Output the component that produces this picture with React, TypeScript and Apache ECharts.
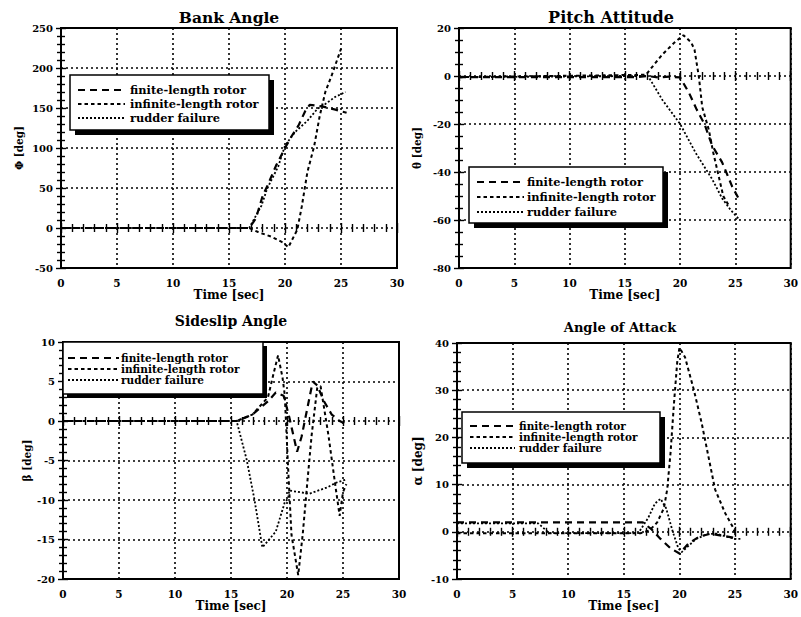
import React, { useEffect, useRef } from "react";
import * as echarts from "echarts";

// ---------- data ----------
const seriesNames = ["finite-length rotor", "infinite-length rotor", "rudder failure"];
const panelTitles = ["Bank Angle", "Pitch Attitude", "Sideslip Angle", "Angle of Attack"];
const yAxisNames = ["Φ [deg]", "θ [deg]", "β [deg]", "α [deg]"];
const xAxisName = "Time [sec]";
const xMin = 0;
const xMax = 30;
const xInterval = 5;
const yMins = [-50, -80, -20, -10];
const yMaxs = [250, 20, 10, 40];
const yIntervals = [50, 20, 5, 10];
const yMinorSplits = [5, 4, 5, 5];

// Bank angle [t, deg]
const bankFinite = [[0, 0], [16.8, 0], [17.4, 12], [18.0, 40], [18.5, 55], [19.2, 78], [20.0, 100], [20.6, 115], [21.2, 128], [21.8, 146], [22.2, 154], [23.3, 152], [24.5, 148], [25.5, 144]];
const bankInfinite = [[0, 0], [16.8, 0], [17.6, -5], [18.8, -11], [19.8, -18], [20.3, -24], [21.1, -2], [21.5, 27], [22.0, 70], [22.6, 102], [23.1, 140], [23.6, 170], [24.2, 192], [25.0, 224]];
const bankRudder = [[0, 0], [16.8, 0], [17.9, 28], [18.4, 49], [19.4, 77], [20.0, 103], [20.9, 120], [22.0, 134], [22.9, 149], [23.6, 155], [24.5, 164], [25.4, 170]];

// Pitch attitude
const pitchFinite = [[0, -0.5], [16.0, -0.5], [17.0, 0], [18.0, -0.6], [19.0, -0.3], [20.0, -0.6], [20.8, -7], [21.5, -14], [22.2, -20], [22.9, -29], [23.8, -36], [24.7, -46], [25.4, -52]];
const pitchInfinite = [[0, -0.5], [16.9, 0.5], [18.4, 9], [19.5, 14], [20.3, 17], [21.0, 14], [21.3, 11], [21.7, -0.5], [22.0, -13], [22.6, -22.5], [23.0, -32], [23.5, -42], [23.9, -50], [24.4, -54]];
const pitchRudder = [[0, -0.5], [17.1, 0], [18.4, -10], [20.0, -20], [21.4, -32], [22.9, -43], [23.8, -51], [24.6, -56], [25.4, -60]];

// Sideslip angle
const sideFinite = [[0, 0], [15.5, 0], [16.9, 0.8], [18.3, 2.5], [19.0, 3.6], [19.7, 3.2], [20.2, 0.5], [20.6, -2], [20.9, -3.9], [21.3, -2], [21.8, 1.5], [22.3, 5], [22.7, 4.5], [23.3, 2.5], [24.0, 0.8], [24.7, 0], [25.4, -0.5]];
const sideInfinite = [[0, 0], [15.5, 0], [16.9, 0.8], [18.3, 3], [18.8, 6], [19.2, 8.3], [19.6, 5.5], [19.8, 3.3], [20.1, -6], [20.4, -14.4], [21.0, -19.5], [21.4, -14.4], [21.8, -8], [22.2, -1.8], [22.7, 4.2], [23.0, 4.4], [23.7, -1.8], [24.3, -8], [24.7, -12], [25.0, -9], [25.3, -8]];
const sideRudder = [[0, 0], [15.5, 0], [16.4, -4.9], [17.1, -10], [17.8, -16], [19.0, -14], [19.8, -10.3], [20.1, -9.8], [20.2, -8.8], [22.0, -9.2], [23.6, -8.4], [24.4, -7.8], [25.3, -7.4]];

// Angle of attack
const aoaFinite = [[0, 2], [16.7, 2], [17.5, 0.5], [18.3, -1.5], [19.2, -3.5], [20.0, -4.6], [20.8, -2.5], [21.8, -1], [22.8, -0.4], [24.0, -0.9], [25.0, -1.3]];
const aoaInfinite = [[0, -0.3], [16.5, -0.3], [17.3, 0.3], [18.0, 2], [18.6, 5], [18.9, 9], [19.2, 16.8], [19.5, 27], [19.8, 36], [20.0, 39], [20.5, 37], [21.3, 30], [22.0, 23], [22.6, 16], [23.2, 9], [24.1, 4], [24.8, 1], [25.0, -0.3]];
const aoaRudder = [[0, 1.8], [7.3, 1.8], [8.3, -0.3], [16.3, -0.3], [17.2, 3], [17.8, 6], [18.3, 7], [18.8, 5], [19.4, 0], [19.9, -3.5], [20.2, -4.3], [20.8, -3], [21.5, -1.5], [22.5, -0.5], [23.3, -0.4], [24.2, -1], [25.0, -1.5], [25.5, -1.5]];

const panelData = [
  [bankFinite, bankInfinite, bankRudder],
  [pitchFinite, pitchInfinite, pitchRudder],
  [sideFinite, sideInfinite, sideRudder],
  [aoaFinite, aoaInfinite, aoaRudder],
];

// ---------- layout / style ----------
const FONT = "'DejaVu Serif', 'Liberation Serif', serif";
const grids = [
  { left: 61, top: 28, width: 336, height: 240 },
  { left: 459, top: 28, width: 335, height: 240 },
  { left: 63, top: 342, width: 336, height: 237 },
  { left: 457, top: 343, width: 336, height: 236 },
];
const titleLayout = [
  { cx: 229, top: 9, size: 15.5 },
  { cx: 611, top: 9, size: 16 },
  { cx: 231, top: 314, size: 14 },
  { cx: 620, top: 321, size: 13 },
];
const yNameGaps = [37, 37, 31, 33];
const lineStyles = [
  { type: [7, 5], width: 2.2 },
  { type: [3.5, 3], width: 2 },
  { type: [2, 2], width: 1.8 },
];
const legendLayout = [
  { x: 70, y: 75, w: 199, h: 55, sh: 5, x1: 78, x2: 125, tx: 130, ys: [90, 104, 118], fs: 11.4 },
  { x: 469, y: 167, w: 194, h: 56, sh: 5, x1: 477, x2: 524, tx: 527, ys: [182, 197, 212], fs: 11.4 },
  { x: 63, y: 342, w: 200, h: 52, sh: 4, x1: 68, x2: 119, tx: 121, ys: [358, 369, 380], fs: 10.5 },
  { x: 462, y: 412, w: 198, h: 51, sh: 5, x1: 470, x2: 515, tx: 519, ys: [426, 437, 448], fs: 10.5 },
];

function buildOption() {
  const tickLine = { color: "#000", width: 1.4 };
  const labelStyle = { color: "#000", fontFamily: FONT, fontWeight: "bold" as const, fontSize: 10 };
  const xAxis: any[] = [];
  const yAxis: any[] = [];
  grids.forEach((_, i) => {
    const common = {
      gridIndex: i,
      type: "value",
      min: xMin,
      max: xMax,
      interval: xInterval,
      axisLine: { show: false },
      axisTick: { show: true, inside: true, length: 5, lineStyle: tickLine },
      minorTick: { show: true, splitNumber: 5, length: 4, lineStyle: tickLine },
    };
    xAxis.push({
      ...common,
      position: "bottom",
      splitLine: { show: true, lineStyle: { color: "#000", type: [2, 3], width: 1.6 } },
      axisLabel: { ...labelStyle, fontSize: 10.5, margin: 9 },
      name: xAxisName,
      nameLocation: "middle",
      nameGap: 20,
      nameTextStyle: { color: "#000", fontFamily: FONT, fontWeight: "bold", fontSize: 12 },
    });
    xAxis.push({ ...common, position: "top", splitLine: { show: false }, axisLabel: { show: false } });
    const yCommon = {
      gridIndex: i,
      type: "value",
      min: yMins[i],
      max: yMaxs[i],
      interval: yIntervals[i],
      axisLine: { show: false },
      axisTick: { show: true, inside: true, length: 5, lineStyle: tickLine },
      minorTick: { show: true, splitNumber: yMinorSplits[i], length: 4, lineStyle: tickLine },
    };
    yAxis.push({
      ...yCommon,
      position: "left",
      splitLine: { show: true, lineStyle: { color: "#000", type: [2, 3], width: 1.6 } },
      axisLabel: { ...labelStyle, margin: 8 },
      name: yAxisNames[i],
      nameLocation: "middle",
      nameGap: yNameGaps[i],
      nameTextStyle: { color: "#000", fontFamily: FONT, fontWeight: "bold", fontSize: i === 3 ? 12 : 10.5 },
    });
    yAxis.push({ ...yCommon, position: "right", splitLine: { show: false }, axisLabel: { show: false } });
  });

  const series: any[] = [];
  panelData.forEach((sets, p) => {
    sets.forEach((data, s) => {
      series.push({
        type: "line",
        name: seriesNames[s],
        xAxisIndex: 2 * p,
        yAxisIndex: 2 * p,
        data,
        showSymbol: false,
        symbol: "none",
        silent: true,
        z: 3,
        lineStyle: { color: "#000", width: lineStyles[s].width, type: lineStyles[s].type },
      });
    });
  });

  const graphic: any[] = [];
  legendLayout.forEach((L) => {
    graphic.push({
      type: "rect",
      z: 100,
      shape: { x: L.x + L.sh, y: L.y + L.sh, width: L.w, height: L.h },
      style: { fill: "#000" },
      silent: true,
    });
    graphic.push({
      type: "rect",
      z: 101,
      shape: { x: L.x, y: L.y, width: L.w, height: L.h },
      style: { fill: "#fff", stroke: "#000", lineWidth: 1.5 },
      silent: true,
    });
    seriesNames.forEach((name, s) => {
      graphic.push({
        type: "line",
        z: 102,
        shape: { x1: L.x1, y1: L.ys[s], x2: L.x2, y2: L.ys[s] },
        style: { stroke: "#000", lineWidth: lineStyles[s].width, lineDash: lineStyles[s].type },
        silent: true,
      });
      graphic.push({
        type: "text",
        z: 102,
        x: L.tx,
        y: L.ys[s],
        style: {
          text: name,
          fill: "#000",
          fontFamily: FONT,
          fontWeight: "bold",
          fontSize: L.fs,
          verticalAlign: "middle",
          align: "left",
        },
        silent: true,
      });
    });
  });

  return {
    animation: false,
    backgroundColor: "#fff",
    title: panelTitles.map((t, i) => ({
      text: t,
      left: titleLayout[i].cx,
      top: titleLayout[i].top,
      textAlign: "center",
      padding: 0,
      textStyle: { color: "#000", fontFamily: FONT, fontWeight: "bold", fontSize: titleLayout[i].size },
    })),
    grid: grids.map((g) => ({ ...g, show: true, borderColor: "#000", borderWidth: 2, backgroundColor: "#fff" })),
    xAxis,
    yAxis,
    series,
    graphic,
  };
}

export default function App() {
  const ref = useRef<HTMLDivElement>(null);
  useEffect(() => {
    if (!ref.current) return;
    const chart = echarts.init(ref.current, undefined, { renderer: "svg" });
    chart.setOption(buildOption() as any);
    return () => chart.dispose();
  }, []);
  return (
    <div
      ref={ref}
      style={{ position: "fixed", left: 0, top: 0, width: 801, height: 617, background: "#fff" }}
    />
  );
}
